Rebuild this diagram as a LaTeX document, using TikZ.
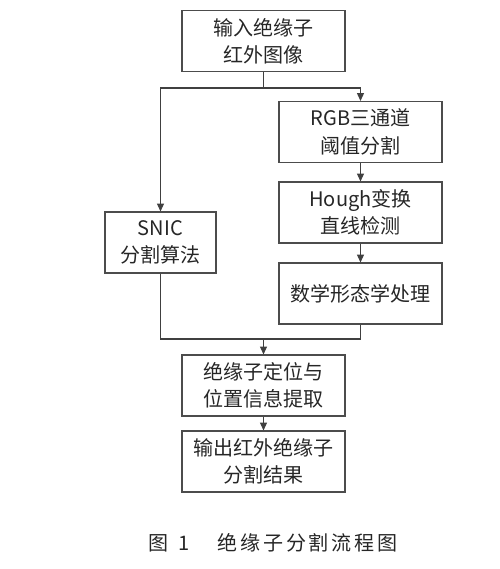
\documentclass[tikz,border=0pt]{standalone}
\usepackage{fontspec}
\usepackage{tikz}
\usetikzlibrary{arrows.meta}
\setmainfont{Noto Sans CJK SC}
\newfontfamily\capfont[LetterSpace=14]{Noto Sans CJK SC}

\tikzset{
    stepbox/.style={draw=black!70, line width=0.6pt, align=center, inner sep=0pt,
        minimum width=163*0.02cm, minimum height=61*0.02cm,
        text=black!85, font=\fontsize{11.4}{15.6}\selectfont},
    flow/.style={draw=black!75, line width=0.6pt},
    flowarr/.style={flow, -{Triangle[length=4.5pt,width=4pt]}}
}

\begin{document}
\begin{tikzpicture}[x=0.02cm, y=-0.02cm]
    \useasboundingbox (0,0) rectangle (500,569);
    % boxes
    \node[stepbox] (input) at (263.5,41) {输入绝缘子\\红外图像};
    \node[stepbox] (rgb) at (360.5,132) {RGB三通道\\阈值分割};
    \node[stepbox] (hough) at (360.5,212.5) {Hough变换\\直线检测};
    \node[stepbox] (morph) at (360.5,293.5) {数学形态学处理};
    \node[stepbox, minimum width=111*0.02cm] (snic) at (160.5,242.5) {SNIC\\分割算法};
    \node[stepbox] (locate) at (263.5,385.5) {绝缘子定位与\\位置信息提取};
    \node[stepbox] (output) at (263.5,461.5) {输出红外绝缘子\\分割结果};
    \node[text=black!85, font=\fontsize{11.4}{13}\selectfont] (cap) at (273,543)
        {\capfont 图\hspace{0.5em}1\hspace{1.4em}绝缘子分割流程图};
    % split and merge points
    \coordinate (split) at (263.5,88);
    \coordinate (merge) at (263.5,339);
    % connectors
    \draw[flow] (input) -- (split);
    \draw[flowarr] (split) -| (snic.north);
    \draw[flowarr] (split) -| (rgb.north);
    \draw[flowarr] (rgb) -- (hough);
    \draw[flowarr] (hough) -- (morph);
    \draw[flow] (snic.south) |- (merge);
    \draw[flow] (morph.south) |- (merge);
    \draw[flowarr] (merge) -- (locate);
    \draw[flowarr] (locate) -- (output);
\end{tikzpicture}
\end{document}
